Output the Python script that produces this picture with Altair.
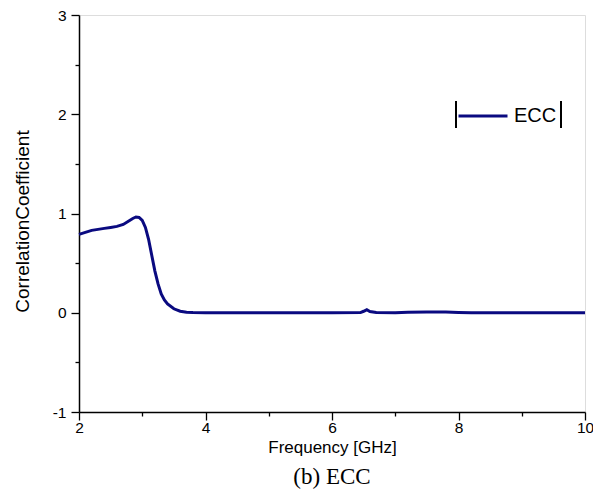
import altair as alt
import pandas as pd

freq = [2.0, 2.1, 2.2, 2.3, 2.4, 2.5, 2.6, 2.7, 2.8, 2.85, 2.9, 2.95, 3.0, 3.05, 3.1, 3.15, 3.2, 3.25,
        3.3, 3.35, 3.4, 3.5, 3.6, 3.7, 3.8, 4.0, 5.0, 6.0, 6.45, 6.5, 6.55, 6.6, 6.7, 7.0, 7.2, 7.5,
        7.8, 8.0, 8.2, 9.0, 10.0]
ecc = [0.79, 0.81, 0.83, 0.84, 0.85, 0.86, 0.87, 0.89, 0.93, 0.95, 0.965, 0.96, 0.93, 0.86, 0.74, 0.58, 0.42, 0.29,
       0.19, 0.13, 0.09, 0.04, 0.015, 0.005, 0.002, 0.0, 0.0, 0.0, 0.002, 0.015, 0.03, 0.012, 0.002, 0.0, 0.004, 0.008,
       0.007, 0.003, 0.0, 0.0, 0.0]
series = ["ECC"] * len(freq)

df = pd.DataFrame({"freq": freq, "ecc": ecc, "series": series})

FONT = "Liberation Sans"
xscale = alt.Scale(domain=[2, 10], nice=False, zero=False)
yscale = alt.Scale(domain=[-1, 3], nice=False, zero=False)
LBL = "replace(datum.label, '\u2212', '-')"

line = alt.Chart(df).mark_line(strokeWidth=3, color="#0a0a80").encode(
    x=alt.X("freq:Q", scale=xscale,
            axis=alt.Axis(values=[2, 4, 6, 8, 10], title="Frequency [GHz]", orient="bottom",
                          tickSize=8, tickWidth=1.3, tickColor="black", domainColor="black",
                          domainWidth=1.5, labelFont=FONT, labelFontSize=15.5, labelColor="black",
                          labelPadding=0, titleFont=FONT, titleFontSize=17, titleFontWeight="normal",
                          titleColor="black", titlePadding=4, grid=False, labelFlush=False)),
    y=alt.Y("ecc:Q", scale=yscale,
            axis=alt.Axis(values=[-1, 0, 1, 2, 3], title="CorrelationCoefficient", orient="left",
                          tickSize=8, tickWidth=1.3, tickColor="black", domainColor="black",
                          domainWidth=1.5, labelFont=FONT, labelFontSize=15.5, labelColor="black",
                          labelPadding=5, labelExpr=LBL, titleFont=FONT, titleFontSize=19,
                          titleFontWeight="normal", titleColor="black", titlePadding=20,
                          titleY=206, grid=False, labelFlush=False)),
    color=alt.Color("series:N", scale=alt.Scale(range=["#0a0a80"]),
                    legend=alt.Legend(title=None, orient="none", legendX=378, legendY=75,
                                      symbolType="stroke", symbolSize=2401, symbolStrokeWidth=3,
                                      labelFont=FONT, labelFontSize=20, labelColor="black",
                                      labelOffset=5, padding=0)),
)

minor = alt.Chart(df).mark_line(opacity=0).encode(
    x=alt.X("freq:Q", scale=xscale,
            axis=alt.Axis(values=[3, 5, 7, 9], orient="bottom", labels=False, domain=False,
                          tickSize=4, tickWidth=1.3, tickColor="black", title=None, grid=False)),
    y=alt.Y("ecc:Q", scale=yscale,
            axis=alt.Axis(values=[-0.5, 0.5, 1.5, 2.5], orient="left", labels=False, domain=False,
                          tickSize=4, tickWidth=1.3, tickColor="black", title=None, grid=False)),
)

bars = alt.Chart(df).mark_rule(color="black", strokeWidth=1).encode(
    x=alt.value(377), y=alt.value(86), y2=alt.value(113))
bars2 = alt.Chart(df).mark_rule(color="black", strokeWidth=1).encode(
    x=alt.value(482), y=alt.value(86), y2=alt.value(113))

chart = alt.layer(line, minor, bars, bars2).resolve_axis(x="independent", y="independent").properties(
    width=506, height=397,
    autosize=alt.AutoSizeParams(type="none"),
    padding={"left": 71, "top": 7, "right": 8, "bottom": 82},
    title=alt.TitleParams(text="(b)  ECC", orient="bottom", font="Liberation Serif", fontSize=23,
                          fontWeight="normal", color="black", anchor="middle", offset=10),
).configure_view(stroke="black", strokeWidth=1.5).configure(background="white")

chart.save("out.html", embed_options={"renderer": "svg", "actions": False})
